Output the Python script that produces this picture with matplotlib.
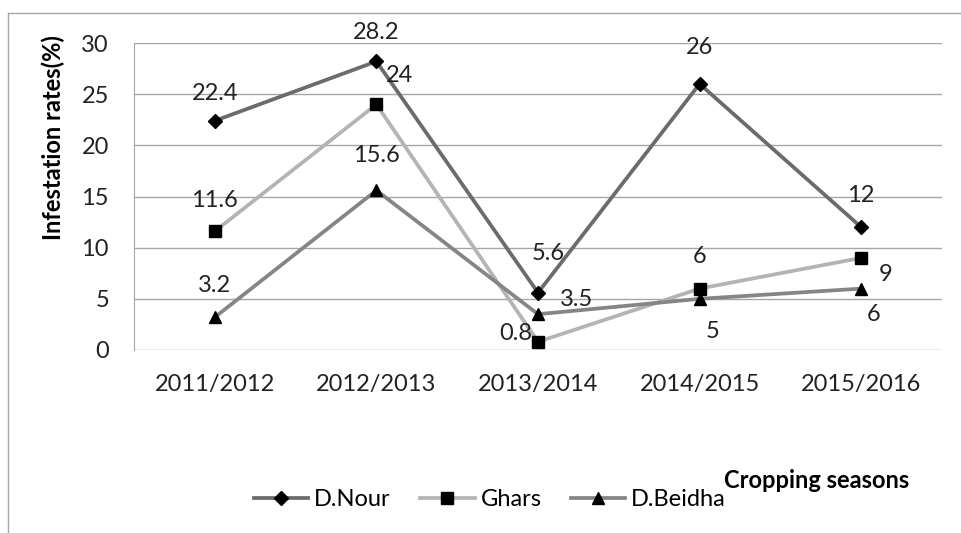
import matplotlib
matplotlib.use("Agg")
import matplotlib.pyplot as plt
from matplotlib.lines import Line2D

plt.rcParams['font.family'] = ['Lato', 'DejaVu Sans']

seasons = ['2011/2012', '2012/2013', '2013/2014', '2014/2015', '2015/2016']
d_nour = [22.4, 28.2, 5.6, 26, 12]
ghars = [11.6, 24, 0.8, 6, 9]
d_beidha = [3.2, 15.6, 3.5, 5, 6]

# label offsets in pixels (dx, dy)
nour_off = [(0, 27), (0, 29), (10, 39), (0, 36), (0, 32)]
ghars_off = [(0, 31), (23, 29), (-22, 8), (0, 32), (24, -17)]
beidha_off = [(0, 32), (0, 35), (39, 15), (13, -33), (12, -26)]

fig = plt.figure(figsize=(9.61, 5.33), dpi=100)
ax = fig.add_axes([134 / 961, 1 - 350 / 533, 808 / 961, 307 / 533])

# outer chart frame (top and left edges visible)
fig.add_artist(Line2D([8 / 961, 1], [1 - 13 / 533, 1 - 13 / 533], color='#a6a6a6', lw=1.0))
fig.add_artist(Line2D([8 / 961, 8 / 961], [0, 1 - 13 / 533], color='#a6a6a6', lw=1.0))

x = list(range(len(seasons)))
series = [
    ('D.Nour', d_nour, nour_off, '#6b6b6b', 'D', 7.5),
    ('Ghars', ghars, ghars_off, '#b4b4b4', 's', 8.5),
    ('D.Beidha', d_beidha, beidha_off, '#858585', '^', 9),
]
handles = []
for name, vals, offs, col, mk, ms in series:
    h, = ax.plot(x, vals, color=col, lw=2.7, marker=mk, ms=ms,
                 mfc='black', mec='black', label=name, zorder=3)
    handles.append(h)
    for xi, v, (dx, dy) in zip(x, vals, offs):
        ax.annotate(f'{v:g}', (xi, v), xytext=(dx, dy), textcoords='offset pixels',
                    ha='center', va='center', fontsize=17, color='#222222')

ax.set_xlim(-0.5, 4.5)
ax.set_ylim(0, 30)
ax.set_yticks(range(0, 31, 5))
ax.set_xticks(x)
ax.set_xticklabels(seasons)
ax.grid(axis='y', color='#a6a6a6', lw=1.0)
ax.set_axisbelow(True)
for s in ['top', 'right', 'bottom']:
    ax.spines[s].set_visible(False)
ax.spines['left'].set_color('#a6a6a6')
ax.tick_params(length=0, labelsize=17, labelcolor='#222222')
ax.tick_params(axis='y', pad=18)
ax.tick_params(axis='x', pad=17)

fig.text(53 / 961, 1 - 138 / 533, 'Infestation rates(%)', rotation=90,
         ha='center', va='center', fontsize=17, fontweight='bold')
fig.text(817 / 961, 1 - 480 / 533, 'Cropping seasons', ha='center', va='center',
         fontsize=17, fontweight='bold')

fig.legend(handles=handles, loc='center', bbox_to_anchor=(490 / 961, 1 - 500 / 533),
           ncol=3, frameon=False, fontsize=17, handlelength=2.3, handletextpad=0.25,
           columnspacing=1.25, borderpad=0)

fig.savefig('out.png', dpi=100)
